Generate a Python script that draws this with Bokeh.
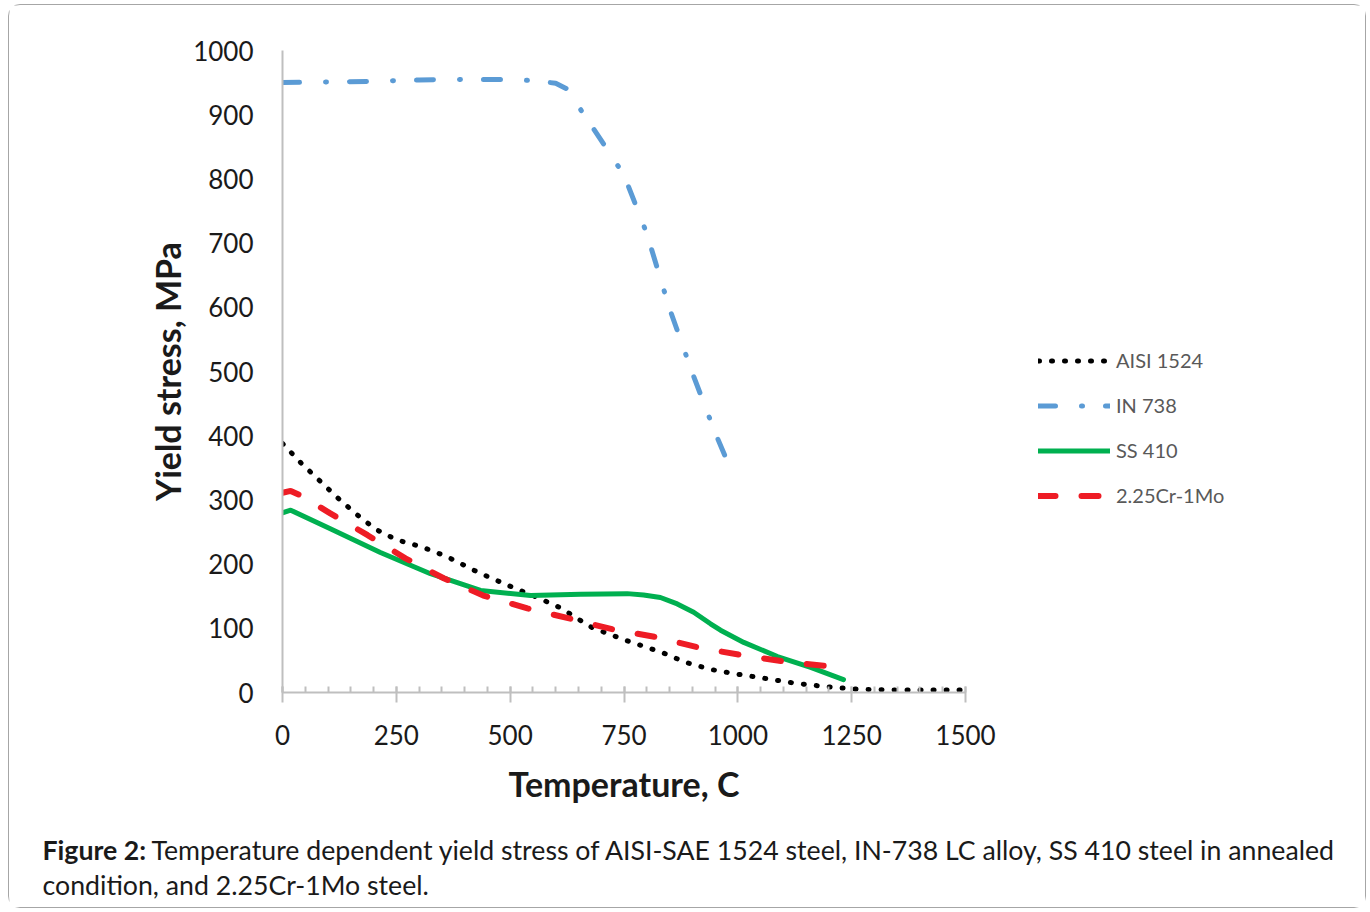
from bokeh.plotting import figure
from bokeh.models import Range1d, FixedTicker, Legend, LegendItem, Label
from bokeh.layouts import row, column
from bokeh.embed import file_html
from bokeh.resources import INLINE

# ---- data ----
aisi_temp = [0, 40, 80, 120, 160, 205, 250, 305, 360, 430, 505, 560, 610, 680, 755,
             835, 885, 940, 995, 1050, 1130, 1210, 1265, 1350, 1500]
aisi_stress = [388, 358, 331, 304, 279, 254, 238, 227, 212, 187, 164, 148, 132, 101, 81,
               62, 47, 36, 29, 23, 14, 8, 5, 4, 4]

in738_temp = [0, 100, 200, 300, 400, 500, 550, 600, 625, 650, 700, 750, 800, 850, 900, 950, 990]
in738_stress = [950, 951, 952, 954, 955, 955, 953, 949, 940, 913, 860, 806, 715, 598, 498, 405, 338]

ss410_temp = [0, 18, 105, 215, 325, 435, 545, 655, 757, 793, 830, 867, 903, 940, 962, 1013,
              1087, 1160, 1232]
ss410_stress = [280, 284, 255, 218, 185, 159, 151, 153, 154, 152, 148, 138, 125, 107, 97, 78,
                56, 39, 20]

cr_temp = [0, 18, 40, 105, 187, 270, 354, 441, 538, 632, 727, 823, 914, 1010, 1105, 1223]
cr_stress = [311, 314, 307, 279, 245, 209, 178, 151, 131, 115, 98, 86, 70, 58, 48, 39]

x_ticks = [0, 250, 500, 750, 1000, 1250, 1500]
x_minor = list(range(0, 1501, 50))
y_ticks = [0, 100, 200, 300, 400, 500, 600, 700, 800, 900, 1000]

series_names = ["AISI 1524", "IN 738", "SS 410", "2.25Cr-1Mo"]

caption_bold = "Figure 2:"
caption_line1 = "Temperature dependent yield stress of AISI-SAE 1524 steel, IN-738 LC alloy, SS 410 steel in annealed"
caption_line2 = "condition, and 2.25Cr-1Mo steel."

FONT = "Lato"
AXIS_GRAY = "#bfbfbf"
TEXT = "#1a1a1a"

styles_list = [
    dict(line_color="black", line_width=5, line_dash="1 12", line_cap="round"),
    dict(line_color="#5b9bd5", line_width=5, line_dash="17 26 1 23", line_cap="round"),
    dict(line_color="#00b050", line_width=5, line_cap="round", line_join="round"),
    dict(line_color="#ee1c25", line_width=6, line_dash="17 26", line_cap="round"),
]
series = [(aisi_temp, aisi_stress), (in738_temp, in738_stress),
          (ss410_temp, ss410_stress), (cr_temp, cr_stress)]

# ---------------- main chart ----------------
p = figure(width=990, height=820, output_backend="svg", toolbar_location=None,
           x_range=Range1d(0, 1500), y_range=Range1d(0, 1000),
           min_border_left=273, min_border_right=34, min_border_top=45, min_border_bottom=133)
p.outline_line_color = None
p.grid.visible = False

for (xs, ys), st in zip(series, styles_list):
    p.line(xs, ys, **st)

xa = p.xaxis[0]
xa.ticker = FixedTicker(ticks=x_ticks, minor_ticks=x_minor)
xa.axis_line_color = AXIS_GRAY
xa.axis_line_width = 2
xa.major_tick_line_color = AXIS_GRAY
xa.major_tick_line_width = 2
xa.major_tick_in = 6
xa.major_tick_out = 10
xa.minor_tick_line_color = AXIS_GRAY
xa.minor_tick_line_width = 2
xa.minor_tick_in = 6
xa.minor_tick_out = 0
xa.major_label_text_font = FONT
xa.major_label_text_font_size = "26px"
xa.major_label_text_color = TEXT
xa.major_label_standoff = 22
xa.axis_label = "Temperature, C"
xa.axis_label_text_font = FONT
xa.axis_label_text_font_style = "bold"
xa.axis_label_text_font_size = "34px"
xa.axis_label_text_color = TEXT
xa.axis_label_standoff = 15

ya = p.yaxis[0]
ya.ticker = FixedTicker(ticks=y_ticks)
ya.axis_line_color = AXIS_GRAY
ya.axis_line_width = 2
ya.major_tick_line_color = None
ya.minor_tick_line_color = None
ya.major_tick_in = 0
ya.major_tick_out = 0
ya.major_label_text_font = FONT
ya.major_label_text_font_size = "26px"
ya.major_label_text_color = TEXT
ya.major_label_standoff = 29
ya.axis_label = "Yield stress, MPa"
ya.axis_label_text_font = FONT
ya.axis_label_text_font_style = "bold"
ya.axis_label_text_font_size = "34px"
ya.axis_label_text_color = TEXT
ya.axis_label_standoff = 2

# ---------------- legend panel ----------------
pl = figure(width=366, height=820, output_backend="svg", toolbar_location=None,
            x_range=Range1d(0, 1500), y_range=Range1d(2000, 3000),
            x_axis_location=None, y_axis_location=None,
            min_border_left=0, min_border_right=0, min_border_top=0, min_border_bottom=0)
pl.outline_line_color = None
pl.grid.visible = False
leg_renderers = [pl.line(xs, ys, **st) for (xs, ys), st in zip(series, styles_list)]

legend = Legend(items=[LegendItem(label=n, renderers=[r]) for n, r in zip(series_names, leg_renderers)],
                location=(39, 185))
legend.border_line_color = None
legend.background_fill_alpha = 0
legend.padding = 0
legend.margin = 0
legend.spacing = 21
legend.glyph_width = 72
legend.glyph_height = 23
legend.label_height = 23
legend.label_standoff = 6
legend.label_text_font = FONT
legend.label_text_font_size = "20px"
legend.label_text_color = "#595959"
pl.add_layout(legend)

# ---------------- caption ----------------
pc = figure(width=1356, height=82, output_backend="svg", toolbar_location=None,
            x_range=Range1d(0, 1), y_range=Range1d(0, 1),
            x_axis_location=None, y_axis_location=None,
            min_border_left=0, min_border_right=0, min_border_top=0, min_border_bottom=0)
pc.outline_line_color = None
pc.grid.visible = False
cap_font_size = "26.7px"
pc.add_layout(Label(x=33, y=58, x_units="screen", y_units="screen", text=caption_bold,
                    text_font=FONT, text_font_style="bold", text_font_size=cap_font_size,
                    text_color=TEXT, text_baseline="alphabetic"))
pc.add_layout(Label(x=142, y=58, x_units="screen", y_units="screen", text=caption_line1,
                    text_font=FONT, text_font_size=cap_font_size,
                    text_color=TEXT, text_baseline="alphabetic"))
pc.add_layout(Label(x=33, y=23, x_units="screen", y_units="screen", text=caption_line2,
                    text_font=FONT, text_font_size=cap_font_size,
                    text_color=TEXT, text_baseline="alphabetic"))

layout = column(row(p, pl, spacing=0), pc, spacing=0,
                styles={"margin": "4px 0 0 8px", "border": "1px solid #a6a6a6",
                        "border-radius": "12px", "background-color": "white"})

open("out.html", "w").write(file_html(layout, INLINE))
